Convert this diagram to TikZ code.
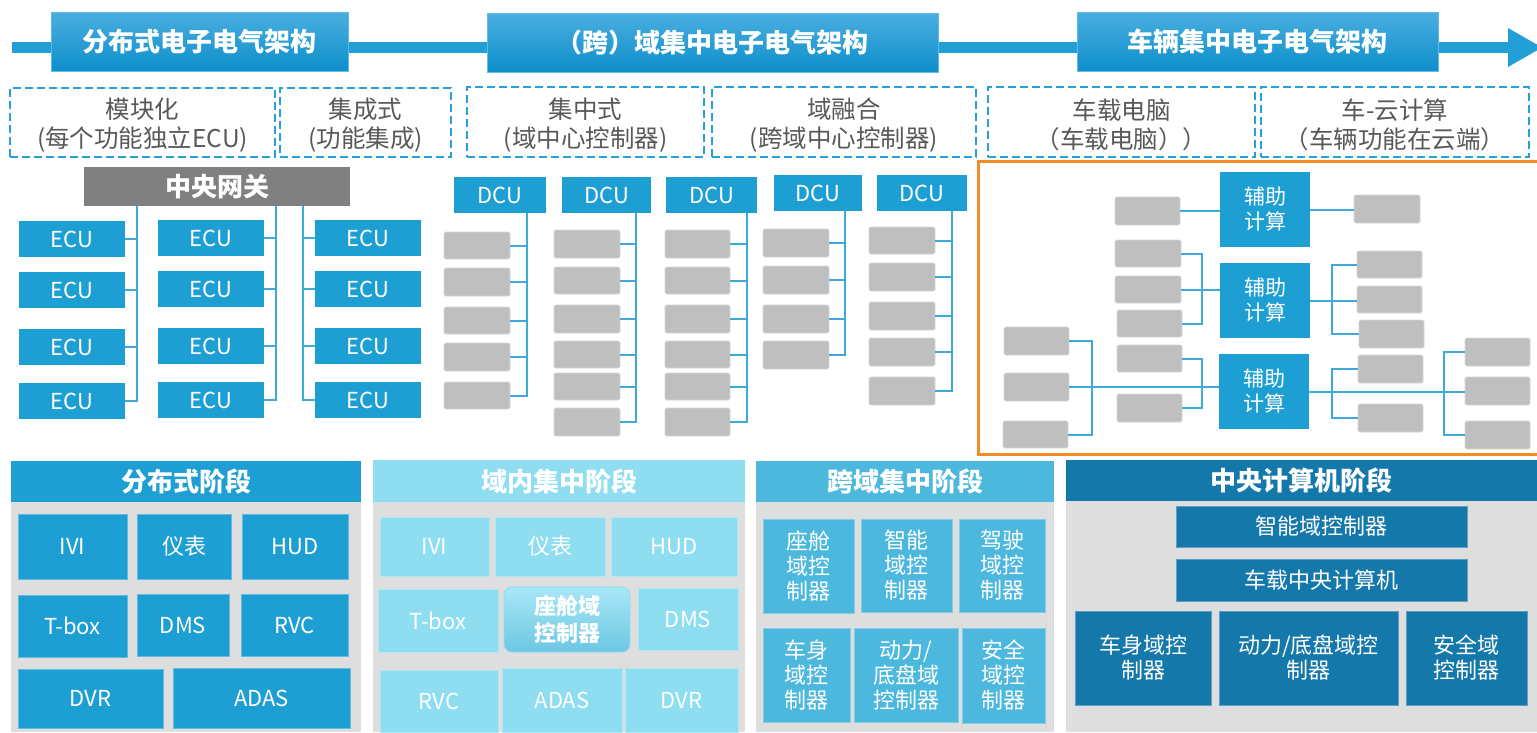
\documentclass[tikz,border=0pt]{standalone}
\usepackage{fontspec}
\setmainfont{Noto Sans CJK SC}
\definecolor{ecublue}{HTML}{1E9FD4}
\definecolor{barblue}{HTML}{239FD8}
\definecolor{bantop}{HTML}{4AAEE0}
\definecolor{banbot}{HTML}{0D8FCA}
\definecolor{banedge}{HTML}{62BBE6}
\definecolor{dashblue}{HTML}{2AA0D8}
\definecolor{txtgray}{HTML}{595959}
\definecolor{gwgray}{HTML}{808080}
\definecolor{boxgray}{HTML}{BFBFBF}
\definecolor{boxgrayedge}{HTML}{D6D6D6}
\definecolor{connblue}{HTML}{3FA9DC}
\definecolor{orangeline}{HTML}{F28C28}
\definecolor{bodygray}{HTML}{DEDEDE}
\definecolor{lightcyan}{HTML}{8EDDF1}
\definecolor{midblue}{HTML}{4DB8DE}
\definecolor{darkblue}{HTML}{1578AB}
\definecolor{cabtop}{HTML}{A8E7F7}
\definecolor{cabbot}{HTML}{6CC7E2}
\tikzset{
  bx/.style={inner sep=0pt, outer sep=0pt, align=center, text=white,
    font=\fontsize{22}{25}\selectfont},
  banner/.style={bx, top color=bantop, bottom color=banbot, draw=banedge,
    line width=0.8pt, font=\bfseries\fontsize{26}{30}\selectfont},
  dbox/.style={bx, draw=dashblue, line width=2.4pt, dash pattern=on 8pt off 4pt,
    text=txtgray, font=\fontsize{24.5}{29}\selectfont},
  dtext/.style={inner sep=0pt, align=center, text=txtgray, font=\fontsize{24.5}{29}\selectfont},
  gwbox/.style={bx, fill=gwgray, font=\bfseries\fontsize{26}{30}\selectfont},
  ecu/.style={bx, fill=ecublue},
  graybox/.style={bx, fill=boxgray, draw=boxgrayedge, line width=0.6pt, rounded corners=1.5pt},
  aux/.style={bx, fill=ecublue, font=\fontsize{21}{25}\selectfont},
  conn/.style={draw=connblue, line width=2pt},
  body/.style={bx, fill=bodygray},
  hdrA/.style={bx, fill=ecublue, font=\bfseries\fontsize{26}{30}\selectfont},
  hdrB/.style={bx, fill=lightcyan, font=\bfseries\fontsize{26}{30}\selectfont},
  hdrC/.style={bx, fill=midblue, font=\bfseries\fontsize{26}{30}\selectfont},
  hdrD/.style={bx, fill=darkblue, font=\bfseries\fontsize{26}{30}\selectfont},
  boxA/.style={bx, fill=ecublue, draw=ecublue!70!white, line width=0.6pt},
  boxB/.style={bx, fill=lightcyan, draw=lightcyan!70!white, line width=0.6pt},
  boxC/.style={bx, fill=midblue, draw=midblue!70!white, line width=0.6pt},
  boxD/.style={bx, fill=darkblue, draw=darkblue!70!white, line width=0.6pt},
  cabin/.style={bx, top color=cabtop, bottom color=cabbot, draw=lightcyan,
    line width=0.8pt, rounded corners=8pt, font=\bfseries\fontsize{22}{27}\selectfont},
}
\newcommand\R[7]{\node[#2, minimum width={(#5-#3)*1pt}, minimum height={(#6-#4)*1pt}] (#1) at ({(#3+#5)/2},{(#4+#6)/2}) {#7};}
\newcommand\DB[6]{\R{#1}{dbox}{#2}{#3}{#4}{#5}{}\node[dtext] (#1t) at ([yshift=-3pt]#1.center) {#6};}
\begin{document}
\begin{tikzpicture}[x=1pt,y=-1pt]
\useasboundingbox (0,0) rectangle (1537,732);
\fill[white] (0,0) rectangle (1537,732);
% ---------- top timeline ----------
\fill[barblue] (12,42) rectangle (1510,53);
\fill[barblue] (1508,28) -- (1542,47.5) -- (1508,67) -- cycle;
\R{b1}{banner}{51}{12}{348}{71}{分布式电子电气架构}
\R{b2}{banner}{487}{13}{938}{72}{（跨）域集中电子电气架构}
\R{b3}{banner}{1077}{12}{1438}{71}{车辆集中电子电气架构}
% ---------- dashed boxes ----------
\DB{d1}{10}{88}{275}{157}{模块化\\(每个功能独立ECU)}
\DB{d2}{280}{88}{451}{157}{集成式\\(功能集成)}
\DB{d3}{467}{87}{704}{157}{集中式\\(域中心控制器)}
\DB{d4}{712}{87}{976}{157}{域融合\\(跨域中心控制器)}
\DB{d5}{988}{87}{1255}{157}{车载电脑\\（车载电脑））}
\DB{d6}{1261}{87}{1529}{157}{车-云计算\\（车辆功能在云端）}
% ---------- distributed ECU tree ----------
\R{gw}{gwbox}{84}{167}{350}{206}{中央网关}
\foreach \n/\ya/\yb in {1/221/257,2/272/308,3/329/365,4/383/419}{
  \R{e1\n}{ecu}{19}{\ya}{125}{\yb}{ECU}}
\foreach \n/\ya/\yb in {1/220/256,2/271/307,3/328/364,4/382/418}{
  \R{e2\n}{ecu}{158}{\ya}{264}{\yb}{ECU}
  \R{e3\n}{ecu}{315}{\ya}{421}{\yb}{ECU}}
\coordinate (t1) at (137,0);
\coordinate (t2) at (276,0);
\coordinate (t3) at (303,0);
\draw[conn] (gw.south -| t1) |- (e14.east);
\draw[conn] (gw.south -| t2) |- (e24.east);
\draw[conn] (gw.south -| t3) |- (e34.west);
\foreach \n in {1,2,3}{
  \draw[conn] (e1\n.east) -- (e1\n.east -| t1);
  \draw[conn] (e2\n.east) -- (e2\n.east -| t2);
  \draw[conn] (e3\n.west) -- (e3\n.west -| t3);}
% ---------- DCU trees ----------
\R{D1}{ecu}{454}{177}{546}{213}{DCU}
\R{D2}{ecu}{562}{177}{651}{213}{DCU}
\R{D3}{ecu}{666}{177}{757}{213}{DCU}
\R{D4}{ecu}{774}{175}{862}{211}{DCU}
\R{D5}{ecu}{877}{175}{967}{211}{DCU}
\foreach \n/\ya/\yb in {1/232/259,2/268/296,3/307/334,4/343/371,5/382/409}{
  \R{c1\n}{graybox}{444}{\ya}{510}{\yb}{}}
\foreach \n/\ya/\yb in {1/230/258,2/267/294,3/305/333,4/341/368,5/373/400,6/408/436}{
  \R{c2\n}{graybox}{554}{\ya}{620}{\yb}{}
  \R{c3\n}{graybox}{665}{\ya}{730}{\yb}{}}
\foreach \n/\ya/\yb in {1/229/257,2/266/294,3/305/333,4/341/369}{
  \R{c4\n}{graybox}{763}{\ya}{829}{\yb}{}}
\foreach \n/\ya/\yb in {1/227/254,2/263/291,3/302/330,4/338/366,5/377/405}{
  \R{c5\n}{graybox}{869}{\ya}{935}{\yb}{}}
\coordinate (k1) at (527,0);
\coordinate (k2) at (636,0);
\coordinate (k3) at (747,0);
\coordinate (k4) at (845,0);
\coordinate (k5) at (952,0);
\draw[conn] (D1.south -| k1) |- (c15.east);
\draw[conn] (D2.south -| k2) |- (c26.east);
\draw[conn] (D3.south -| k3) |- (c36.east);
\draw[conn] (D4.south -| k4) |- (c44.east);
\draw[conn] (D5.south -| k5) |- (c55.east);
\foreach \n in {1,...,4}{\draw[conn] (c1\n.east) -- (c1\n.east -| k1);}
\foreach \n in {1,...,5}{
  \draw[conn] (c2\n.east) -- (c2\n.east -| k2);
  \draw[conn] (c3\n.east) -- (c3\n.east -| k3);}
\foreach \n in {1,...,3}{\draw[conn] (c4\n.east) -- (c4\n.east -| k4);}
\foreach \n in {1,...,4}{\draw[conn] (c5\n.east) -- (c5\n.east -| k5);}
% ---------- vehicle centralized region ----------
\draw[orangeline, line width=3pt] (1545,161) -- (978,161) -- (978,454) -- (1545,454);
\R{A1}{aux}{1220}{172}{1310}{247}{辅助\\计算}
\R{A2}{aux}{1220}{263}{1310}{338}{辅助\\计算}
\R{A3}{aux}{1219}{354}{1309}{429}{辅助\\计算}
\R{g1}{graybox}{1115}{197}{1180}{225}{}
\R{g2}{graybox}{1115}{240}{1181}{267}{}
\R{g3}{graybox}{1115}{276}{1181}{303}{}
\R{g4}{graybox}{1117}{310}{1182}{337}{}
\R{g5}{graybox}{1117}{345}{1182}{372}{}
\R{g6}{graybox}{1117}{394}{1182}{422}{}
\R{f1}{graybox}{1004}{327}{1069}{355}{}
\R{f2}{graybox}{1004}{373}{1069}{401}{}
\R{f3}{graybox}{1003}{421}{1068}{448}{}
\R{r1}{graybox}{1354}{195}{1420}{223}{}
\R{r2}{graybox}{1357}{251}{1422}{278}{}
\R{r3}{graybox}{1357}{286}{1422}{313}{}
\R{r4}{graybox}{1359}{320}{1424}{348}{}
\R{r5}{graybox}{1358}{355}{1423}{383}{}
\R{r6}{graybox}{1358}{404}{1423}{432}{}
\R{q1}{graybox}{1465}{338}{1530}{366}{}
\R{q2}{graybox}{1465}{377}{1530}{405}{}
\R{q3}{graybox}{1465}{421}{1530}{449}{}
\coordinate (k6) at (1201.5,0);
\coordinate (k7) at (1091.5,0);
\coordinate (k8) at (1332,0);
\coordinate (k9) at (1444,0);
\draw[conn] (g1.east) -- (g1.east -| A1.west);
\draw[conn] (A1.east) -- (A1.east -| r1.west);
\draw[conn] (g2.east) -| (k6 |- g4.east) -- (g4.east);
\draw[conn] (g3.east) -- (g3.east -| A2.west);
\draw[conn] (g5.east) -| (k6 |- g6.east) -- (g6.east);
\draw[conn] (f1.east) -| (k7 |- f3.east) -- (f3.east);
\draw[conn] (f2.east) -- (f2.east -| A3.west);
\draw[conn] (r2.west) -| (k8 |- r4.west) -- (r4.west);
\draw[conn] (A2.east) -- (A2.east -| r3.west);
\draw[conn] (r5.west) -| (k8 |- r6.west) -- (r6.west);
\draw[conn] (A3.east) -- (A3.east -| q2.west);
\draw[conn] (q1.west) -| (k9 |- q3.west) -- (q3.west);
% ---------- bottom panel 1 ----------
\R{p1b}{body}{11}{502}{361}{732}{}
\R{p1}{hdrA}{11}{461}{361}{502}{分布式阶段}
\R{s11}{boxA}{18}{514}{127}{579}{IVI}
\R{s12}{boxA}{137}{514}{231}{579}{仪表}
\R{s13}{boxA}{242}{514}{348}{579}{HUD}
\R{s14}{boxA}{18}{595}{127}{657}{T-box}
\R{s15}{boxA}{137}{594}{229}{656}{DMS}
\R{s16}{boxA}{241}{594}{348}{656}{RVC}
\R{s17}{boxA}{18}{669}{163}{728}{DVR}
\R{s18}{boxA}{173}{668}{350}{728}{ADAS}
% ---------- bottom panel 2 ----------
\R{p2b}{body}{373}{502}{745}{732}{}
\R{p2}{hdrB}{373}{460}{745}{502}{域内集中阶段}
\R{s21}{boxB}{380}{517}{489}{576}{IVI}
\R{s22}{boxB}{495}{517}{605}{576}{仪表}
\R{s23}{boxB}{611}{517}{737}{576}{HUD}
\R{s24}{boxB}{378}{589}{498}{652}{T-box}
\R{s25}{cabin}{504}{587}{630}{652}{座舱域\\控制器}
\R{s26}{boxB}{638}{588}{738}{650}{DMS}
\R{s27}{boxB}{380}{670}{498}{732}{RVC}
\R{s28}{boxB}{502}{668}{622}{732}{ADAS}
\R{s29}{boxB}{625}{668}{738}{732}{DVR}
% ---------- bottom panel 3 ----------
\R{p3b}{body}{756}{502}{1054}{732}{}
\R{p3}{hdrC}{756}{461}{1054}{502}{跨域集中阶段}
\R{s31}{boxC}{763}{519}{854}{613}{座舱\\域控\\制器}
\R{s32}{boxC}{861}{519}{952}{612}{智能\\域控\\制器}
\R{s33}{boxC}{959}{519}{1045}{612}{驾驶\\域控\\制器}
\R{s34}{boxC}{763}{628}{850}{722}{车身\\域控\\制器}
\R{s35}{boxC}{854}{628}{958}{722}{动力/\\底盘域\\控制器}
\R{s36}{boxC}{962}{628}{1045}{723}{安全\\域控\\制器}
% ---------- bottom panel 4 ----------
\R{p4b}{body}{1066}{501}{1537}{732}{}
\R{p4}{hdrD}{1066}{460}{1537}{501}{中央计算机阶段}
\R{s41}{boxD}{1176}{506}{1467}{547}{智能域控制器}
\R{s42}{boxD}{1176}{559}{1467}{601}{车载中央计算机}
\R{s43}{boxD}{1075}{611}{1211}{705}{车身域控\\制器}
\R{s44}{boxD}{1219}{611}{1398}{705}{动力/底盘域控\\制器}
\R{s45}{boxD}{1406}{611}{1527}{705}{安全域\\控制器}
\end{tikzpicture}
\end{document}
